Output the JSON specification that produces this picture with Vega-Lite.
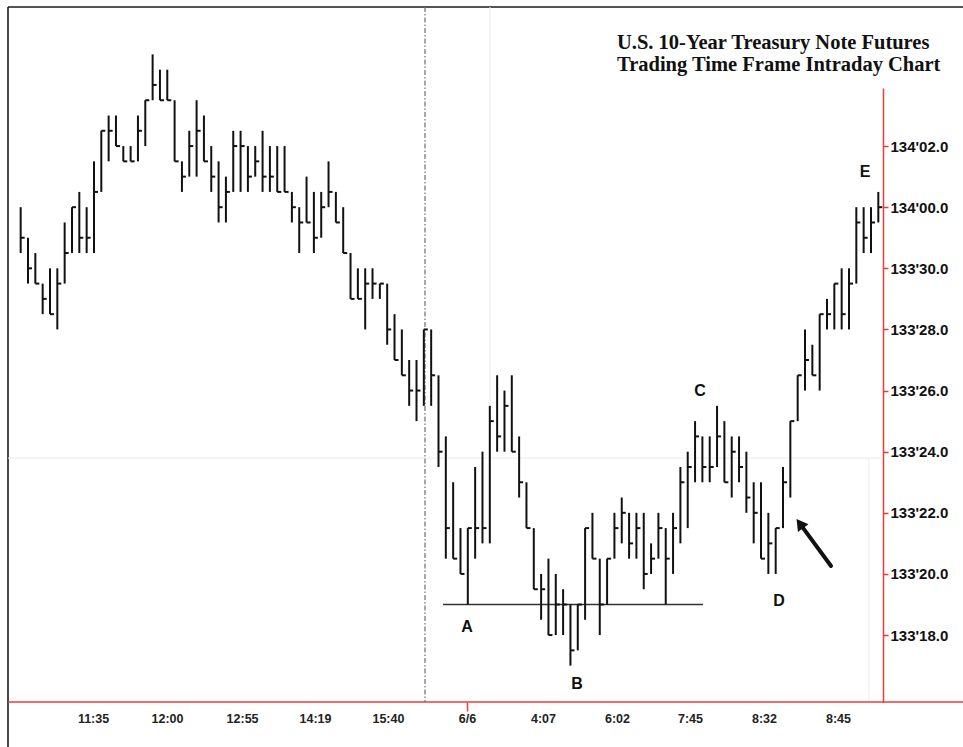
{
  "$schema": "https://vega.github.io/schema/vega-lite/v6.json",
  "width": 873,
  "height": 614,
  "padding": {"left": 10, "top": 88, "right": 80, "bottom": 45},
  "autosize": {"type": "none"},
  "background": "white",
  "config": {"view": {"stroke": null}},
  "title": {
    "text": ["U.S. 10-Year Treasury Note Futures", "\u00a0Trading Time Frame Intraday Chart"],
    "anchor": "start", "frame": "group", "align": "left", "dx": 607, "offset": -69,
    "font": "Liberation Serif", "fontSize": 20.5, "fontWeight": "bold", "color": "#111111", "lineHeight": 22
  },
  "datasets": {
    "bars": [
      {"x":1,"y":32,"y2":30.5,"c":31},{"x":2,"y":31,"y2":29.5,"c":30},{"x":3,"y":30.5,"y2":29.5,"c":29.5},{"x":4,"y":29.5,"y2":28.5,"c":29},{"x":5,"y":30,"y2":28.5,"c":28.5},{"x":6,"y":30,"y2":28,"c":29.5},{"x":7,"y":31.5,"y2":29.5,"c":30.5},{"x":8,"y":32,"y2":30.5,"c":32},{"x":9,"y":32.5,"y2":30.5,"c":31},{"x":10,"y":32,"y2":30.5,"c":31},
      {"x":11,"y":33.5,"y2":30.5,"c":32.5},{"x":12,"y":34.5,"y2":32.5,"c":34.5},{"x":13,"y":35,"y2":33.5,"c":34.5},{"x":14,"y":35,"y2":34,"c":34},{"x":15,"y":34,"y2":33.5,"c":33.5},{"x":16,"y":34,"y2":33.5,"c":33.5},{"x":17,"y":35,"y2":33.5,"c":34.5},{"x":18,"y":35.5,"y2":34,"c":35.5},{"x":19,"y":37,"y2":35.5,"c":36},{"x":20,"y":36.5,"y2":35.5,"c":35.5},
      {"x":21,"y":36.5,"y2":35.5,"c":35.5},{"x":22,"y":35.5,"y2":33.5,"c":33.5},{"x":23,"y":33.5,"y2":32.5,"c":33},{"x":24,"y":34.5,"y2":33,"c":34},{"x":25,"y":35.5,"y2":33,"c":34.5},{"x":26,"y":35,"y2":33.5,"c":33.5},{"x":27,"y":34,"y2":32.5,"c":33},{"x":28,"y":33.5,"y2":31.5,"c":32},{"x":29,"y":33,"y2":31.5,"c":32.5},{"x":30,"y":34.5,"y2":32.5,"c":34},
      {"x":31,"y":34.5,"y2":32.5,"c":34},{"x":32,"y":34,"y2":32.5,"c":33},{"x":33,"y":34,"y2":33,"c":33.5},{"x":34,"y":34.5,"y2":32.5,"c":33},{"x":35,"y":34,"y2":32.5,"c":33},{"x":36,"y":34,"y2":32.5,"c":32.5},{"x":37,"y":34,"y2":32.5,"c":32.5},{"x":38,"y":32.5,"y2":31.5,"c":32},{"x":39,"y":32,"y2":30.5,"c":31.5},{"x":40,"y":33,"y2":31.5,"c":31.5},
      {"x":41,"y":32.5,"y2":30.5,"c":31},{"x":42,"y":32.5,"y2":31,"c":32},{"x":43,"y":33.5,"y2":32,"c":32.5},{"x":44,"y":32.5,"y2":31.5,"c":31.5},{"x":45,"y":32,"y2":30.5,"c":30.5},{"x":46,"y":30.5,"y2":29,"c":29},{"x":47,"y":30,"y2":29,"c":29},{"x":48,"y":30,"y2":28,"c":29.5},{"x":49,"y":30,"y2":29,"c":29.5},{"x":50,"y":29.5,"y2":29,"c":29.5},
      {"x":51,"y":29.5,"y2":27.5,"c":28},{"x":52,"y":28.5,"y2":27,"c":27},{"x":53,"y":28,"y2":26.5,"c":26.5},{"x":54,"y":27,"y2":25.5,"c":26},{"x":55,"y":27,"y2":25,"c":26},{"x":56,"y":28,"y2":25.5,"c":28},{"x":57,"y":28,"y2":25.5,"c":26.5},{"x":58,"y":26.5,"y2":23.5,"c":24},{"x":59,"y":24.5,"y2":20.5,"c":21.5},{"x":60,"y":23,"y2":20.5,"c":20.5},
      {"x":61,"y":21.5,"y2":20,"c":20},{"x":62,"y":21.5,"y2":19,"c":21.5},{"x":63,"y":23.5,"y2":20.5,"c":21.5},{"x":64,"y":24,"y2":21,"c":21.5},{"x":65,"y":25.5,"y2":21,"c":25},{"x":66,"y":26.5,"y2":24,"c":24.5},{"x":67,"y":26,"y2":24,"c":25.5},{"x":68,"y":26.5,"y2":24,"c":24},{"x":69,"y":24.5,"y2":22.5,"c":23},{"x":70,"y":23,"y2":21.5,"c":21.5},
      {"x":71,"y":21.5,"y2":19.5,"c":19.5},{"x":72,"y":20,"y2":18.5,"c":19.5},{"x":73,"y":20.5,"y2":18,"c":18},{"x":74,"y":20,"y2":18,"c":19},{"x":75,"y":19.5,"y2":18,"c":19},{"x":76,"y":19,"y2":17,"c":17.5},{"x":77,"y":19,"y2":17.5,"c":19},{"x":78,"y":21.5,"y2":18.5,"c":21.5},{"x":79,"y":22,"y2":20.5,"c":20.5},{"x":80,"y":20.5,"y2":18,"c":19},
      {"x":81,"y":20.5,"y2":19,"c":20.5},{"x":82,"y":22,"y2":20.5,"c":21.5},{"x":83,"y":22.5,"y2":21,"c":22},{"x":84,"y":22,"y2":20.5,"c":21},{"x":85,"y":22,"y2":20.5,"c":21.5},{"x":86,"y":22,"y2":19.5,"c":20},{"x":87,"y":21,"y2":20,"c":20.5},{"x":88,"y":22,"y2":20.5,"c":21.5},{"x":89,"y":21.5,"y2":19,"c":20.5},{"x":90,"y":22,"y2":20,"c":21.5},
      {"x":91,"y":23.5,"y2":21,"c":23},{"x":92,"y":24,"y2":21.5,"c":23.5},{"x":93,"y":25,"y2":23,"c":24.5},{"x":94,"y":24.5,"y2":23,"c":23.5},{"x":95,"y":24.5,"y2":23,"c":23.5},{"x":96,"y":25.5,"y2":23.5,"c":24.5},{"x":97,"y":25,"y2":23,"c":23},{"x":98,"y":24.5,"y2":22.5,"c":24},{"x":99,"y":24.5,"y2":23,"c":23.5},{"x":100,"y":24,"y2":22,"c":22.5},
      {"x":101,"y":23,"y2":21,"c":22},{"x":102,"y":23,"y2":20.5,"c":20.5},{"x":103,"y":22,"y2":20,"c":21},{"x":104,"y":21.5,"y2":20,"c":21.5},{"x":105,"y":23.5,"y2":21.5,"c":23},{"x":106,"y":25,"y2":22.5,"c":25},{"x":107,"y":26.5,"y2":25,"c":26.5},{"x":108,"y":28,"y2":26,"c":27},{"x":109,"y":27.5,"y2":26.5,"c":26.5},{"x":110,"y":28.5,"y2":26,"c":28.5},
      {"x":111,"y":29,"y2":28,"c":28.5},{"x":112,"y":29.5,"y2":28,"c":29.5},{"x":113,"y":30,"y2":28,"c":28.5},{"x":114,"y":30,"y2":28,"c":29.5},{"x":115,"y":32,"y2":29.5,"c":31.5},{"x":116,"y":32,"y2":30.5,"c":31},{"x":117,"y":32,"y2":30.5,"c":31.5},{"x":118,"y":32.5,"y2":31.5,"c":32}
    ],
    "lines": [
      {"kind":"frame","x":-0.73,"x2":-0.73,"y":38.55,"y2":14.3},
      {"kind":"frameTop","x":-0.73,"x2":129.6,"y":38.55},
      {"kind":"faintH","x":-0.73,"x2":118.64,"y":23.79},
      {"kind":"faint","x":65.03,"x2":65.03,"y":38.55,"y2":23.79},
      {"kind":"faint","x":116.73,"x2":116.73,"y":23.79,"y2":15.81},
      {"kind":"session","x":56.16,"x2":56.16,"y":38.55,"y2":15.81},
      {"kind":"support","x":58.62,"x2":94.09,"y":19},
      {"kind":"arrow","x":111.55,"x2":107.6,"y":20.26,"y2":21.55}
    ],
    "baseline": [
      {"x":-0.73,"y":15.81},
      {"x":129.6,"y":15.81}
    ],
    "notes": [
      {"label":"A","x":61.89,"y":18.26},
      {"label":"B","x":76.9,"y":16.4},
      {"label":"C","x":93.67,"y":25.98},
      {"label":"D","x":104.45,"y":19.11},
      {"label":"E","x":116.2,"y":33.15}
    ],
    "heads": [
      {"x":107.3,"y":21.65}
    ]
  },
  "encoding": {
    "x": {
      "field": "x", "type": "quantitative",
      "scale": {"domain": [-0.456, 118.64], "nice": false, "zero": false},
      "axis": {
        "orient": "bottom", "title": null, "domain": false, "grid": false,
        "values": [10.87, 20.96, 31.2, 41.15, 51.1, 61.89, 72.26, 82.35, 92.31, 102.4, 112.5],
        "labelExpr": "['11:35','12:00','12:55','14:19','15:40','6/6','4:07','6:02','7:45','8:32','8:45'][indexof([10.87, 20.96, 31.2, 41.15, 51.1, 61.89, 72.26, 82.35, 92.31, 102.4, 112.5], datum.value)]",
        "ticks": true, "tickSize": 9, "tickWidth": 1.5,
        "tickColor": {"condition": {"test": "datum.value == 61.89", "value": "#ee3b3b"}, "value": "transparent"},
        "labelPadding": 1, "labelFont": "Liberation Sans", "labelFontSize": 12.5, "labelFontWeight": "bold",
        "labelColor": "#222222", "labelOverlap": false, "labelFlush": false
      }
    },
    "y": {
      "field": "y", "type": "quantitative",
      "scale": {"domain": [15.81, 35.9], "nice": false, "zero": false},
      "axis": {
        "orient": "right", "title": null, "grid": false,
        "values": [18, 20, 22, 24, 26, 28, 30, 32, 34],
        "labelExpr": "datum.value >= 32 ? \"134'0\" + (datum.value - 32) + \".0\" : \"133'\" + datum.value + \".0\"",
        "domain": true, "domainColor": "#ee3b3b", "domainWidth": 1.5,
        "ticks": true, "tickColor": "#ee3b3b", "tickSize": 5, "tickWidth": 1.5,
        "labelPadding": 2, "labelFont": "Liberation Sans", "labelFontSize": 15, "labelFontWeight": "bold",
        "labelColor": "#111111", "labelOverlap": false, "labelFlush": false
      }
    }
  },
  "layer": [
    {
      "data": {"name": "lines"},
      "transform": [{"filter": "datum.kind == 'frame'"}],
      "mark": {"type": "rule", "color": "#1a1a1a", "strokeWidth": 1.6},
      "encoding": {"x2": {"field": "x2"}, "y2": {"field": "y2"}}
    },
    {
      "data": {"name": "lines"},
      "transform": [{"filter": "datum.kind == 'frameTop'"}],
      "mark": {"type": "rule", "color": "#1a1a1a", "strokeWidth": 1.6},
      "encoding": {"x2": {"field": "x2"}}
    },
    {
      "data": {"name": "lines"},
      "transform": [{"filter": "datum.kind == 'faint'"}],
      "mark": {"type": "rule", "color": "#ececec", "strokeWidth": 1},
      "encoding": {"x2": {"field": "x2"}, "y2": {"field": "y2"}}
    },
    {
      "data": {"name": "lines"},
      "transform": [{"filter": "datum.kind == 'faintH'"}],
      "mark": {"type": "rule", "color": "#ececec", "strokeWidth": 1},
      "encoding": {"x2": {"field": "x2"}}
    },
    {
      "data": {"name": "lines"},
      "transform": [{"filter": "datum.kind == 'session'"}],
      "mark": {"type": "rule", "color": "#7a7a7a", "strokeWidth": 1.3, "strokeDash": [5, 2, 1.5, 2]},
      "encoding": {"x2": {"field": "x2"}, "y2": {"field": "y2"}}
    },
    {
      "data": {"name": "lines"},
      "transform": [{"filter": "datum.kind == 'support'"}],
      "mark": {"type": "rule", "color": "#333333", "strokeWidth": 1.6},
      "encoding": {"x2": {"field": "x2"}}
    },
    {
      "data": {"name": "baseline"},
      "mark": {"type": "line", "color": "#ee3b3b", "strokeWidth": 1.5},
      "encoding": {}
    },
    {
      "data": {"name": "bars"},
      "mark": {"type": "rule", "color": "#111111", "strokeWidth": 2},
      "encoding": {"y2": {"field": "y2"}}
    },
    {
      "data": {"name": "bars"},
      "mark": {"type": "rule", "color": "#111111", "strokeWidth": 2, "x2Offset": 4},
      "encoding": {
        "x2": {"field": "x"},
        "y": {
          "field": "c", "type": "quantitative",
          "scale": {"domain": [15.81, 35.9], "nice": false, "zero": false},
          "axis": {
            "orient": "right", "title": null, "grid": false,
            "values": [18, 20, 22, 24, 26, 28, 30, 32, 34],
            "labelExpr": "datum.value >= 32 ? \"134'0\" + (datum.value - 32) + \".0\" : \"133'\" + datum.value + \".0\"",
            "domain": true, "domainColor": "#ee3b3b", "domainWidth": 1.5,
            "ticks": true, "tickColor": "#ee3b3b", "tickSize": 5, "tickWidth": 1.5,
            "labelPadding": 2, "labelFont": "Liberation Sans", "labelFontSize": 15, "labelFontWeight": "bold",
            "labelColor": "#111111", "labelOverlap": false, "labelFlush": false
          }
        }
      }
    },
    {
      "data": {"name": "notes"},
      "mark": {"type": "text", "font": "Liberation Sans", "fontSize": 16, "fontWeight": "bold", "color": "#111111", "align": "center", "baseline": "middle"},
      "encoding": {"text": {"field": "label"}}
    },
    {
      "data": {"name": "lines"},
      "transform": [{"filter": "datum.kind == 'arrow'"}],
      "mark": {"type": "rule", "color": "#111111", "strokeWidth": 4, "strokeCap": "round"},
      "encoding": {"x2": {"field": "x2"}, "y2": {"field": "y2"}}
    },
    {
      "data": {"name": "heads"},
      "mark": {"type": "point", "shape": "triangle-up", "filled": true, "color": "#111111", "size": 170, "angle": 324, "opacity": 1},
      "encoding": {}
    }
  ]
}
